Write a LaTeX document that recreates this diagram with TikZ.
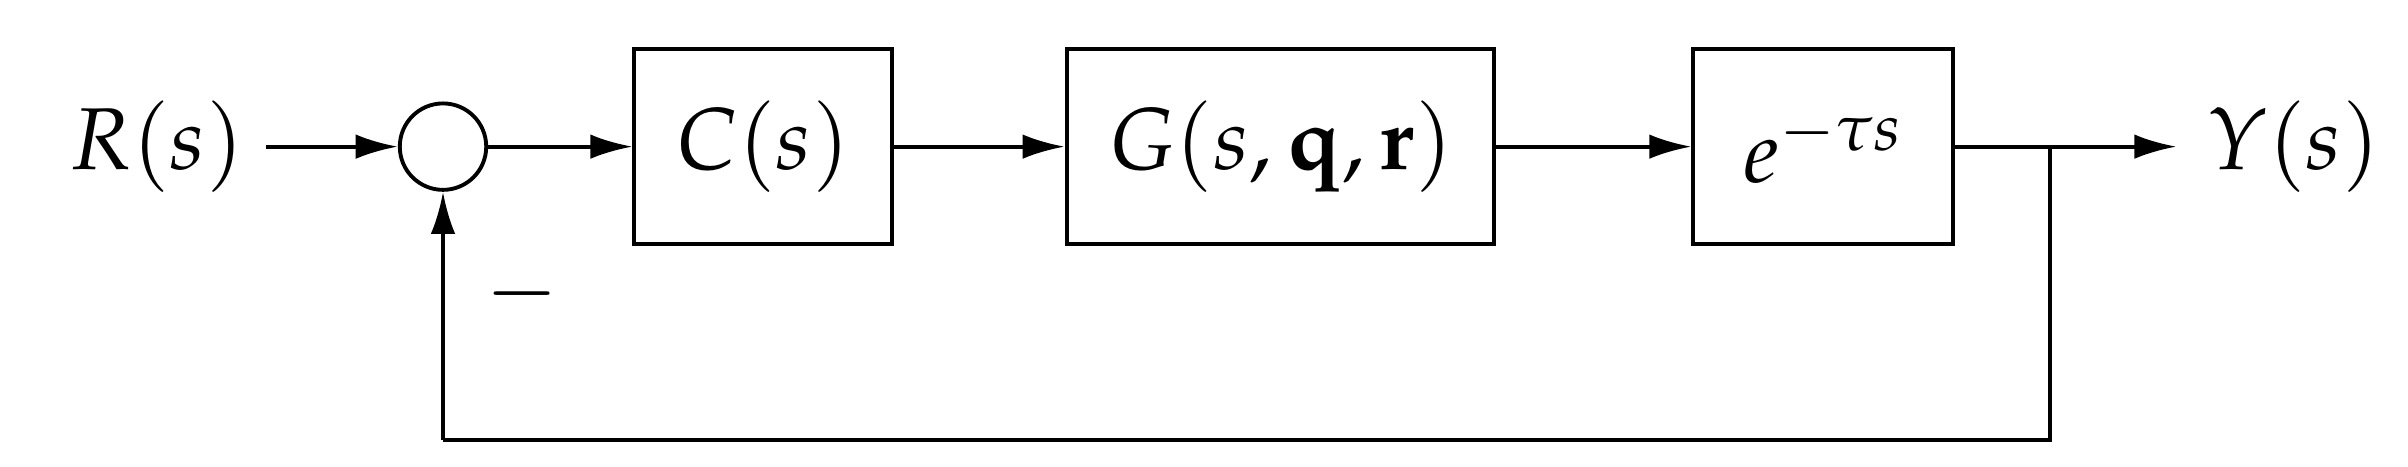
\documentclass[tikz,border=0pt]{standalone}
\usepackage{mathpazo}
\usetikzlibrary{arrows.meta}
\begin{document}
\begin{tikzpicture}[x=0.01544cm,y=-0.01544cm,
  blk/.style={draw,line width=1.1pt,minimum height=126*0.01544cm,inner sep=0pt},
  lbl/.style={font=\fontsize{25}{28}\selectfont},
  arr/.style={line width=1.1pt,-{Latex[length=12pt,width=7pt]}},
  ln/.style={line width=1.1pt}]
\useasboundingbox (0,0) rectangle (1560,302);
\node[lbl,anchor=west] (R) at (37,95) {$R(s)$};
\node[draw,circle,line width=1.1pt,minimum size=56*0.01544cm,inner sep=0pt] (S) at (287,95) {};
\node[blk,lbl,minimum width=167*0.01544cm] (C) at (494.5,95) {$C(s)$};
\node[blk,lbl,minimum width=277*0.01544cm] (G) at (829.5,95) {$G(s,\mathbf{q},\mathbf{r})$};
\node[blk,lbl,minimum width=168*0.01544cm] (E) at (1181,95) {$e^{-\tau s}$};
\node[lbl,anchor=west] (Y) at (1422,95) {$Y(s)$};
\coordinate (B) at (1328,95);
\coordinate (D1) at (1328,285);
\coordinate (D2) at (287,285);
\node[lbl] (M) at (338,190) {$-$};
\draw[arr] (172,95) -- (S.west);
\draw[arr] (S.east) -- (C.west);
\draw[arr] (C.east) -- (G.west);
\draw[arr] (G.east) -- (E.west);
\draw[arr] (E.east) -- ([xshift=-12*0.01544cm]Y.west);
\draw[ln] (B) -- (D1) -- (D2);
\draw[arr] (D2) -- (S.south);
\end{tikzpicture}
\end{document}
